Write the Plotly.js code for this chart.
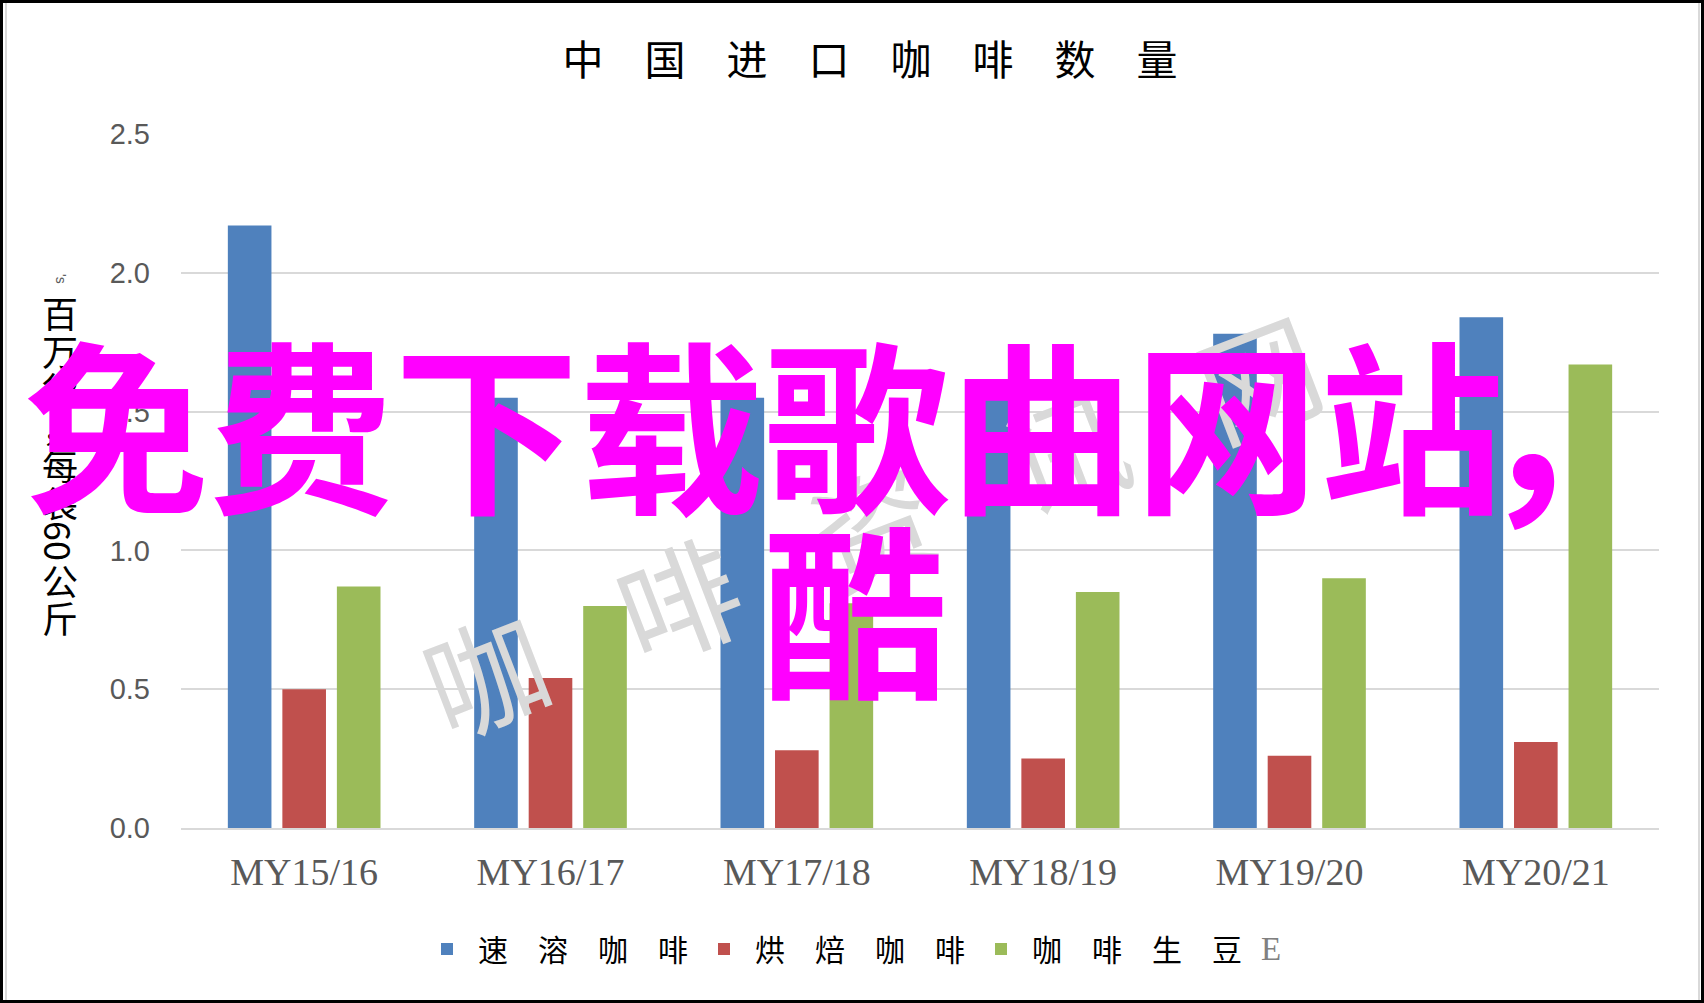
<!DOCTYPE html>
<html>
<head>
<meta charset="utf-8">
<script src="https://cdn.plot.ly/plotly-3.0.1.min.js"></script>
<style>
  html, body { margin: 0; padding: 0; background: #ffffff; }
  #wrap { position: relative; width: 1704px; height: 1003px; overflow: hidden; }
  #chart { position: absolute; left: 0; top: 0; width: 1704px; height: 1003px; }
  #frame { position: absolute; left: 0; top: 0; width: 1704px; height: 1003px; box-sizing: border-box; border: 3px solid #000; pointer-events: none; }
  .vline { position: absolute; top: 0; width: 2px; height: 1003px; background: #d9d9d9; pointer-events: none; }
</style>
</head>
<body>
<div id="wrap">
  <div id="chart"></div>
  <div class="vline" style="left:5px"></div>
  <div class="vline" style="left:1698px"></div>
  <div id="frame"></div>
</div>
<script>
// ---- data ----
const categories = ['MY15/16', 'MY16/17', 'MY17/18', 'MY18/19', 'MY19/20', 'MY20/21'];
const instantCoffee = [2.17, 1.55, 1.55, 1.56, 1.78, 1.84];
const roastedCoffee = [0.50, 0.54, 0.28, 0.25, 0.26, 0.31];
const greenBeans    = [0.87, 0.80, 0.81, 0.85, 0.90, 1.67];
const seriesNames = ['速\u3000溶\u3000咖\u3000啡', '烘\u3000焙\u3000咖\u3000啡', '咖\u3000啡\u3000生\u3000豆'];
const seriesColors = ['#4f81bd', '#c0504d', '#9bbb59'];
const yTickValues = [0, 0.5, 1.0, 1.5, 2.0, 2.5];
const yTickLabels = ['0.0', '0.5', '1.0', '1.5', '2.0', '2.5'];
const chartTitle = '中\u3000国\u3000进\u3000口\u3000咖\u3000啡\u3000数\u3000量';
const yTitleChars = ['百', '万', '袋', '，', '每', '袋', '60', '公', '斤'];
const overlayLine1 = '免费下载歌曲网站';
const overlayComma = '，';
const overlayLine2 = '酷';
const watermarkChars = ['咖', '啡', '资', '讯', '网'];
const legendTail = 'E';

// ---- layout helpers (pixel -> paper) ----
const L = 181, R = 1659, T = 134, B = 828;
const px = x => (x - L) / (R - L);
const py = y => (B - y) / (B - T);

const traces = [instantCoffee, roastedCoffee, greenBeans].map((vals, i) => ({
  type: 'bar',
  name: seriesNames[i],
  x: categories,
  y: vals,
  marker: { color: seriesColors[i], line: { width: 0 } },
  hoverinfo: 'x+y+name'
}));

const annotations = [];

// y-axis title, stacked vertically
const yTitleCenters = [312, 350, 388, 426, 464, 502, 541, 580, 617];
yTitleChars.forEach((ch, i) => {
  annotations.push({
    xref: 'paper', yref: 'paper',
    x: px(60), y: py(yTitleCenters[i]),
    xanchor: 'center', yanchor: 'middle',
    text: ch, showarrow: false,
    textangle: ch === '60' ? 90 : 0,
    font: { family: 'Noto Sans CJK SC', size: 36, color: '#000000' }
  });
});
annotations.push({
  xref: 'paper', yref: 'paper', x: px(61), y: py(279),
  xanchor: 'center', yanchor: 'middle', text: "'s", showarrow: false, textangle: 90,
  font: { family: 'Liberation Sans', size: 14, color: '#595959' }
});

// trailing legend artefact
annotations.push({
  xref: 'paper', yref: 'paper', x: px(1271), y: py(949),
  xanchor: 'center', yanchor: 'middle', text: legendTail, showarrow: false,
  font: { family: 'Liberation Serif', size: 33, color: '#808080' }
});

// grey watermark
annotations.push({
  xref: 'paper', yref: 'paper', x: px(871), y: py(522),
  xanchor: 'center', yanchor: 'middle', text: watermarkChars.join('\u2002 '), showarrow: false,
  textangle: -21,
  font: { family: 'Noto Sans CJK SC', size: 120, color: '#d9d9d9' }
});

// magenta overlay text
const magentaFont = { family: 'Noto Sans CJK SC', size: 185, color: '#ff00ff', weight: 'bold' };
annotations.push({
  xref: 'paper', yref: 'paper', x: px(763.5), y: py(419),
  xanchor: 'center', yanchor: 'middle', text: overlayLine1, showarrow: false,
  font: magentaFont
});
annotations.push({
  xref: 'paper', yref: 'paper', x: px(1576), y: py(415),
  xanchor: 'center', yanchor: 'middle', text: overlayComma, showarrow: false,
  font: Object.assign({}, magentaFont, { size: 200 })
});
annotations.push({
  xref: 'paper', yref: 'paper', x: px(854), y: py(604),
  xanchor: 'center', yanchor: 'middle', text: overlayLine2, showarrow: false,
  font: magentaFont
});

const layout = {
  width: 1704, height: 1003,
  margin: { l: L, r: 1704 - R, t: T, b: 1003 - B, pad: 0 },
  paper_bgcolor: '#ffffff', plot_bgcolor: '#ffffff',
  title: {
    text: chartTitle,
    font: { family: 'Noto Sans CJK SC', size: 41, color: '#000000' },
    xref: 'container', x: 870 / 1704, xanchor: 'center',
    yref: 'container', y: 1 - 61 / 1003, yanchor: 'middle'
  },
  barmode: 'group',
  bargap: 0.336,
  bargroupgap: 0.2,
  xaxis: {
    type: 'category',
    showgrid: false,
    showline: true, linecolor: '#d9d9d9', linewidth: 2,
    ticks: '', ticklabelstandoff: 9,
    tickfont: { family: 'Liberation Serif', size: 38, color: '#595959' },
    fixedrange: true
  },
  yaxis: {
    range: [0, 2.5],
    tickvals: yTickValues, ticktext: yTickLabels,
    showgrid: true, gridcolor: '#d9d9d9', gridwidth: 2,
    zeroline: false, showline: false,
    ticks: '', ticklabelstandoff: 30,
    tickfont: { family: 'Liberation Sans', size: 29, color: '#595959' },
    fixedrange: true
  },
  showlegend: true,
  legend: {
    orientation: 'h',
    x: px(416), xanchor: 'left',
    y: py(949), yanchor: 'middle',
    itemwidth: 52,
    entrywidth: 210, entrywidthmode: 'pixels',
    font: { family: 'Noto Sans CJK SC', size: 30, color: '#000000' },
    bgcolor: 'rgba(0,0,0,0)',
    traceorder: 'normal'
  },
  annotations: annotations
};

Plotly.newPlot('chart', traces, layout, { displayModeBar: false, staticPlot: true });
</script>
</body>
</html>
